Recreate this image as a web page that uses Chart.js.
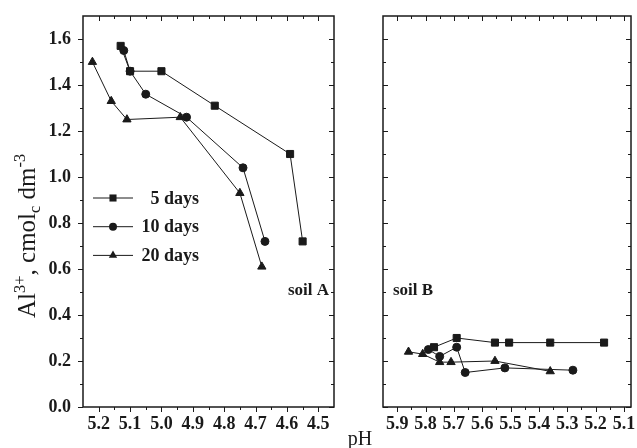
<!DOCTYPE html>
<html>
<head>
<meta charset="utf-8">
<script src="https://cdn.jsdelivr.net/npm/chart.js@4.4.0/dist/chart.umd.min.js"></script>
<style>
  html, body { margin: 0; padding: 0; background: #fff; }
  #wrap { position: relative; width: 637px; height: 448px; }
  #boxA { position: absolute; left: 0; top: 0; width: 340px; height: 448px; }
  #boxB { position: absolute; left: 340px; top: 0; width: 297px; height: 448px; }
</style>
</head>
<body>
<div id="wrap">
  <div id="boxA"><canvas id="chA"></canvas></div>
  <div id="boxB"><canvas id="chB"></canvas></div>
</div>
<script>
// soil A
const phA5  = [5.13, 5.10, 5.00, 4.83, 4.59, 4.55];
const alA5  = [1.57, 1.46, 1.46, 1.31, 1.10, 0.72];
const phA10 = [5.12, 5.10, 5.05, 4.92, 4.74, 4.67];
const alA10 = [1.55, 1.46, 1.36, 1.26, 1.04, 0.72];
const phA20 = [5.22, 5.16, 5.11, 4.94, 4.75, 4.68];
const alA20 = [1.50, 1.33, 1.25, 1.26, 0.93, 0.61];

// soil B
const phB5  = [5.77, 5.69, 5.555, 5.505, 5.36, 5.17];
const alB5  = [0.26, 0.30, 0.28, 0.28, 0.28, 0.28];
const phB10 = [5.79, 5.75, 5.69, 5.66, 5.52, 5.28];
const alB10 = [0.25, 0.22, 0.26, 0.15, 0.17, 0.16];
const phB20 = [5.86, 5.81, 5.75, 5.71, 5.555, 5.36];
const alB20 = [0.24, 0.23, 0.195, 0.195, 0.20, 0.155];

const seriesNames = ['5 days', '10 days', '20 days'];
const xTicksA = [5.2, 5.1, 5.0, 4.9, 4.8, 4.7, 4.6, 4.5];
const xTicksB = [5.9, 5.8, 5.7, 5.6, 5.5, 5.4, 5.3, 5.2, 5.1];
const yTicks = [0.0, 0.2, 0.4, 0.6, 0.8, 1.0, 1.2, 1.4, 1.6];

const SERIF = '"Liberation Serif", "Times New Roman", serif';
const INK = '#1a1a1a';
const markers = ['rect', 'circle', 'triangle'];
const markerSize = [5, 4, 4.8];

Chart.defaults.font.family = SERIF;
Chart.defaults.color = INK;

function pts(xs, ys) {
  return xs.map((x, i) => ({ x: x, y: ys[i] }));
}

function makeSets(groups) {
  return groups.map((g, i) => ({
    label: seriesNames[i],
    data: pts(g[0], g[1]),
    showLine: true,
    borderColor: INK,
    borderWidth: 1,
    pointStyle: markers[i],
    pointRadius: markerSize[i],
    pointHoverRadius: markerSize[i],
    pointBackgroundColor: INK,
    pointBorderColor: INK,
    pointBorderWidth: 1
  }));
}

function minorsOf(major, lo, hi) {
  const out = [];
  const step = major[1] - major[0];
  const all = [major[0] - step / 2];
  for (let i = 0; i < major.length - 1; i++) all.push((major[i] + major[i + 1]) / 2);
  all.push(major[major.length - 1] + step / 2);
  all.forEach(v => { if (v > lo + 0.005 && v < hi - 0.005) out.push(v); });
  return out;
}

function drawMarker(ctx, style, r, x, y) {
  ctx.beginPath();
  if (style === 'rect') {
    const s = r * Math.SQRT1_2;
    ctx.rect(x - s, y - s, 2 * s, 2 * s);
  } else if (style === 'circle') {
    ctx.arc(x, y, r, 0, Math.PI * 2);
  } else {
    for (let k = 0; k < 3; k++) {
      const ang = k * 2 * Math.PI / 3;
      const px = x + Math.sin(ang) * r, py = y - Math.cos(ang) * r;
      if (k === 0) ctx.moveTo(px, py); else ctx.lineTo(px, py);
    }
    ctx.closePath();
  }
  ctx.fill();
}

// frame + inward/outward ticks like the original plot
const framePlugin = {
  id: 'frame',
  afterDraw(chart, args, o) {
    const { ctx, chartArea: a, scales } = chart;
    const sx = scales.x, sy = scales.y;
    ctx.save();
    ctx.strokeStyle = INK;
    ctx.lineWidth = 1;
    const xMin = minorsOf(o.xMajor, Math.min(sx.min, sx.max), Math.max(sx.min, sx.max));
    const yMin = minorsOf(yTicks, sy.min, sy.max);
    const side = (name, vals, len) => {
      const dir = o.sides[name] === 'out' ? 1 : -1;
      vals.forEach(v => {
        ctx.beginPath();
        if (name === 'bottom' || name === 'top') {
          const px = Math.round(sx.getPixelForValue(v)) + 0.5;
          const y0 = name === 'bottom' ? a.bottom : a.top;
          const sgn = name === 'bottom' ? dir : -dir;
          ctx.moveTo(px, y0); ctx.lineTo(px, y0 + sgn * len);
        } else {
          const py = Math.round(sy.getPixelForValue(v)) + 0.5;
          const x0 = name === 'left' ? a.left : a.right;
          const sgn = name === 'left' ? -dir : dir;
          ctx.moveTo(x0, py); ctx.lineTo(x0 + sgn * len, py);
        }
        ctx.stroke();
      });
    };
    ['bottom', 'top'].forEach(s => { side(s, o.xMajor, 5); side(s, xMin, 3); });
    ['left', 'right'].forEach(s => { side(s, yTicks, 5); side(s, yMin, 3); });
    ctx.lineWidth = 1.5;
    ctx.strokeRect(a.left, a.top, a.right - a.left, a.bottom - a.top);
    ctx.restore();
  }
};

function drawRich(ctx, parts, size) {
  let x = 0;
  parts.forEach(p => {
    const fs = p[1] ? size * 0.66 : size;
    ctx.font = fs + 'px ' + SERIF;
    const dy = p[1] === 'sup' ? -size * 0.42 : (p[1] === 'sub' ? size * 0.2 : 0);
    ctx.fillText(p[0], x, dy);
    x += ctx.measureText(p[0]).width;
  });
}

const textPlugin = {
  id: 'texts',
  afterDraw(chart, args, o) {
    const { ctx, chartArea: a } = chart;
    ctx.save();
    ctx.fillStyle = INK;
    ctx.textBaseline = 'middle';
    ctx.font = 'bold 17px ' + SERIF;
    if (o.soil) {
      ctx.textAlign = o.soil.align;
      ctx.fillText(o.soil.text, o.soil.align === 'right' ? a.right - 5 : a.left + 10, 291);
    }
    if (o.legend) {
      chart.data.datasets.forEach((ds, i) => {
        const y = 198 + i * 28.7;
        ctx.strokeStyle = INK;
        ctx.lineWidth = 1;
        ctx.beginPath(); ctx.moveTo(93, y); ctx.lineTo(133, y); ctx.stroke();
        drawMarker(ctx, ds.pointStyle, ds.pointRadius, 113, y);
        ctx.font = 'bold 18px ' + SERIF;
        ctx.textAlign = 'right';
        ctx.fillText(ds.label, 199, y + 1);
      });
    }
    if (o.yTitle) {
      ctx.translate(35, 318);
      ctx.rotate(-Math.PI / 2);
      ctx.textAlign = 'left';
      ctx.textBaseline = 'alphabetic';
      drawRich(ctx, [['Al'], ['3+', 'sup'], [', cmol'], ['c', 'sub'], [' dm'], ['-3', 'sup']], 25);
    }
    if (o.xTitle) {
      ctx.textAlign = 'center';
      ctx.textBaseline = 'alphabetic';
      ctx.font = '20px ' + SERIF;
      ctx.fillText('pH', 20, 445);
    }
    ctx.restore();
  }
};

function scalesFor(xTicks, xmin, xmax, showY, yW) {
  return {
    x: {
      type: 'linear', reverse: true, min: xmin, max: xmax,
      afterBuildTicks: s => { s.ticks = xTicks.map(v => ({ value: v })); },
      afterFit: s => { s.height = 41; s.paddingLeft = 0; s.paddingRight = 0; },
      grid: { display: false, drawTicks: false },
      border: { display: false },
      ticks: { padding: 7, maxRotation: 0, autoSkip: false, font: { size: 18, weight: 'bold' }, callback: v => v.toFixed(1) }
    },
    y: {
      type: 'linear', min: 0, max: 1.7,
      afterBuildTicks: s => { s.ticks = yTicks.map(v => ({ value: v })); },
      afterFit: s => { s.width = yW; s.paddingTop = 0; s.paddingBottom = 0; },
      grid: { display: false, drawTicks: false },
      border: { display: false },
      ticks: { display: showY, padding: 12, font: { size: 18, weight: 'bold' }, callback: v => v.toFixed(1) }
    }
  };
}

function baseOptions(pad, xTicks, xmin, xmax, showY, yW, frameOpts, textOpts) {
  return {
    responsive: true,
    maintainAspectRatio: false,
    animation: false,
    layout: { padding: pad },
    scales: scalesFor(xTicks, xmin, xmax, showY, yW),
    plugins: { legend: { display: false }, tooltip: { enabled: false }, frame: frameOpts, texts: textOpts }
  };
}

new Chart(document.getElementById('chA'), {
  type: 'scatter',
  data: { datasets: makeSets([[phA5, alA5], [phA10, alA10], [phA20, alA20]]) },
  options: baseOptions({ left: 0, top: 16, right: 2, bottom: 0 }, xTicksA, 4.45, 5.25, true, 83,
    { xMajor: xTicksA, sides: { left: 'out', bottom: 'out', top: 'in', right: 'in' } },
    { soil: { text: 'soil A', align: 'right' }, legend: true, yTitle: true }),
  plugins: [framePlugin, textPlugin]
});

new Chart(document.getElementById('chB'), {
  type: 'scatter',
  data: { datasets: makeSets([[phB5, alB5], [phB10, alB10], [phB20, alB20]]) },
  options: baseOptions({ left: 0, top: 16, right: 1, bottom: 0 }, xTicksB, 5.075, 5.95, false, 43,
    { xMajor: xTicksB, sides: { left: 'in', bottom: 'out', top: 'in', right: 'in' } },
    { soil: { text: 'soil B', align: 'left' }, xTitle: true }),
  plugins: [framePlugin, textPlugin]
});
</script>
</body>
</html>
